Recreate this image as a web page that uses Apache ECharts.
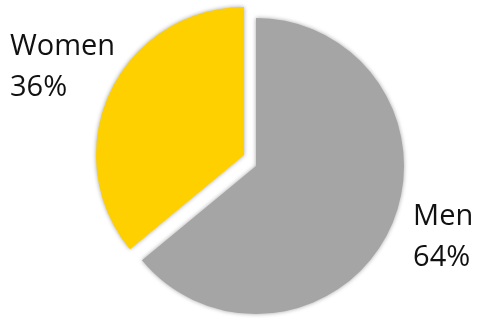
<!DOCTYPE html>
<html>
<head>
<meta charset="utf-8">
<script src="https://cdn.jsdelivr.net/npm/echarts@6/dist/echarts.min.js"></script>
<style>html,body{margin:0;padding:0;background:#fff}#c{width:479px;height:318px}</style>
</head>
<body>
<div id="c"></div>
<script>
const categories = ['Men', 'Women'];
const values = [64, 36];
const colors = ['#A5A5A5', '#FFD000'];

const chart = echarts.init(document.getElementById('c'), null, {renderer: 'canvas'});
const labelFont = {
  fontFamily: 'Open Sans',
  fontSize: 29,
  lineHeight: 41,
  color: '#111',
  overflow: 'none',
  formatter: '{b}\n{d}%'
};
function makeData(showIdx) {
  return categories.map((c, i) => ({
    name: c,
    value: values[i],
    itemStyle: i === showIdx
      ? {color: colors[i], shadowBlur: 4, shadowColor: 'rgba(0,0,0,0.35)'}
      : {color: 'rgba(0,0,0,0)'},
    label: {show: i === showIdx}
  }));
}
chart.setOption({
  animation: false,
  series: [
    {
      type: 'pie',
      center: [256, 166],
      radius: 148,
      startAngle: 90,
      avoidLabelOverlap: false,
      silent: true,
      label: Object.assign({position: 'outside', distanceToLabelLine: 5}, labelFont),
      labelLine: {show: false, length: 19, length2: 1},
      data: makeData(0)
    },
    {
      type: 'pie',
      center: [244, 155],
      radius: 148,
      startAngle: 90,
      avoidLabelOverlap: false,
      silent: true,
      label: Object.assign({position: 'outside', alignTo: 'edge', edgeDistance: 10}, labelFont),
      labelLine: {show: false, length: 58, length2: 1},
      data: makeData(1)
    }
  ]
});
</script>
</body>
</html>
